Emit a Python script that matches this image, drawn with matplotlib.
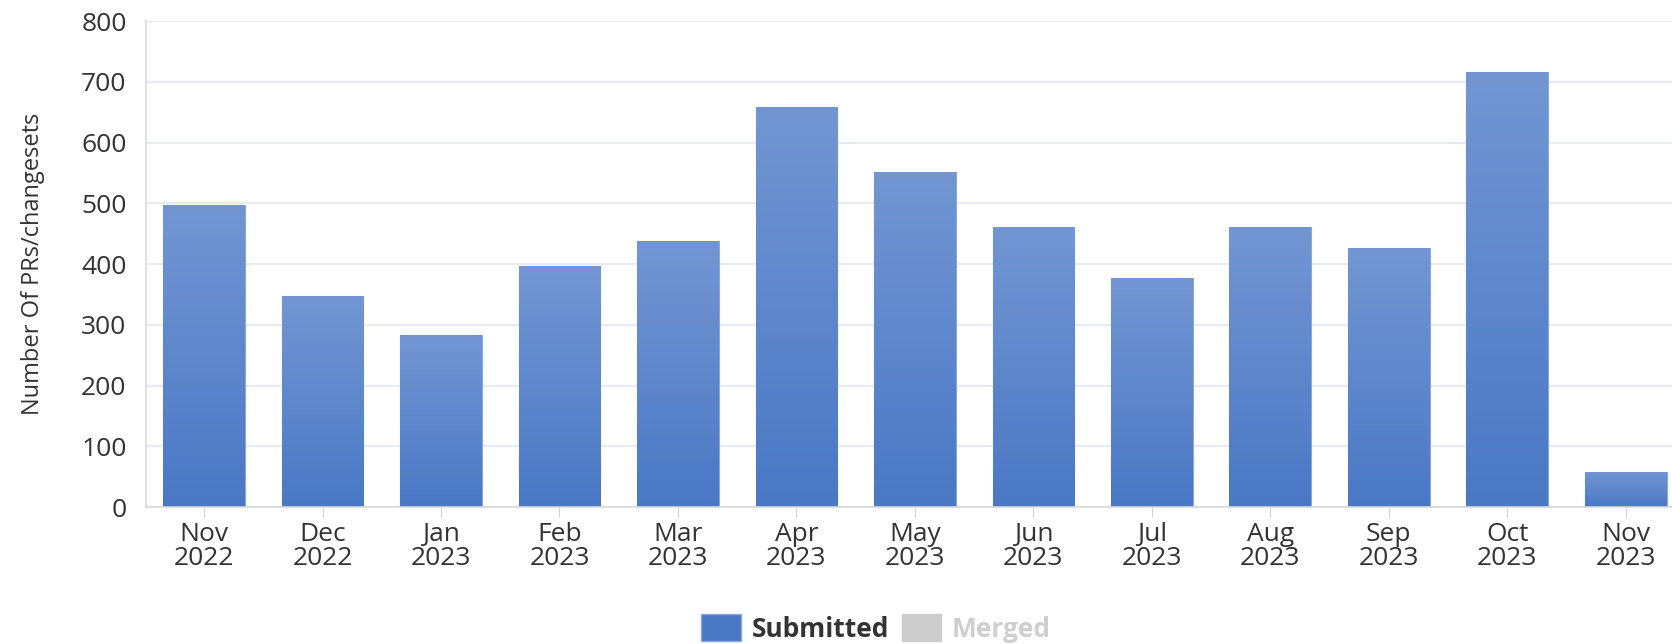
import matplotlib
matplotlib.use('Agg')
import matplotlib.pyplot as plt
import numpy as np
from matplotlib.colors import LinearSegmentedColormap
from matplotlib.patches import Patch

plt.rcParams['font.family'] = ['Open Sans', 'DejaVu Sans']

months = ['Nov\n2022', 'Dec\n2022', 'Jan\n2023', 'Feb\n2023', 'Mar\n2023', 'Apr\n2023',
          'May\n2023', 'Jun\n2023', 'Jul\n2023', 'Aug\n2023', 'Sep\n2023', 'Oct\n2023',
          'Nov\n2023']
submitted = [497, 347, 284, 396, 438, 658, 552, 461, 377, 461, 426, 716, 58]
yticks = [0, 100, 200, 300, 400, 500, 600, 700, 800]

TOP = '#7396d3'
BOTTOM = '#4a78c5'
cmap = LinearSegmentedColormap.from_list('bar', [BOTTOM, TOP])

fig = plt.figure(figsize=(16.72, 6.44), dpi=100)
ax = fig.add_axes([0.0873, 0.2127, 0.9127, 0.7546])

x = np.arange(len(months))
bars = ax.bar(x, submitted, width=0.69, color=BOTTOM, edgecolor='#8aa8dc',
              linewidth=0.8, zorder=2)

# vertical gradient inside each bar
grad = np.linspace(0, 1, 256).reshape(-1, 1)
for b in bars:
    x0, y0 = b.get_x(), b.get_y()
    w, h = b.get_width(), b.get_height()
    im = ax.imshow(grad, cmap=cmap, origin='lower', aspect='auto',
                   extent=[x0, x0 + w, y0, y0 + h], zorder=2.5)
    im.set_clip_path(b)

ax.set_xlim(-0.49, 12.39)
ax.set_ylim(0, 800)
ax.set_yticks(yticks)
ax.set_xticks(x)
ax.set_xticklabels(months, linespacing=0.92)
ax.grid(axis='y', color='#e4e8f3', linewidth=1.2, zorder=0)
ax.set_axisbelow(True)

for s in ['top', 'right']:
    ax.spines[s].set_visible(False)
ax.spines['left'].set_color('#e0e0e0')
ax.spines['left'].set_linewidth(1.5)
ax.spines['bottom'].set_color('#d8d8d8')
ax.spines['bottom'].set_linewidth(1.2)

ax.tick_params(axis='y', length=0, labelsize=19, labelcolor='#333333', pad=14)
ax.tick_params(axis='x', length=7, color='#d0d0d0', labelsize=19,
               labelcolor='#333333', pad=4)

ax.set_ylabel('Number Of PRs/changesets', fontsize=17, color='#333333')
ax.yaxis.set_label_coords(-0.066, 0.5)

handles = [Patch(facecolor=BOTTOM, edgecolor='#8aa8dc'),
           Patch(facecolor='#cccccc', edgecolor='#cccccc')]
leg = fig.legend(handles, ['Submitted', 'Merged'], loc='lower center',
                 bbox_to_anchor=(0.524, -0.035), ncol=2, frameon=False,
                 fontsize=19, handlelength=1.5, handleheight=1.2,
                 handletextpad=0.4, columnspacing=0.5)
texts = leg.get_texts()
texts[0].set_color('#333333')
texts[0].set_fontweight('bold')
texts[1].set_color('#cfcfcf')
texts[1].set_fontweight('bold')

fig.savefig('out.png', dpi=100)
